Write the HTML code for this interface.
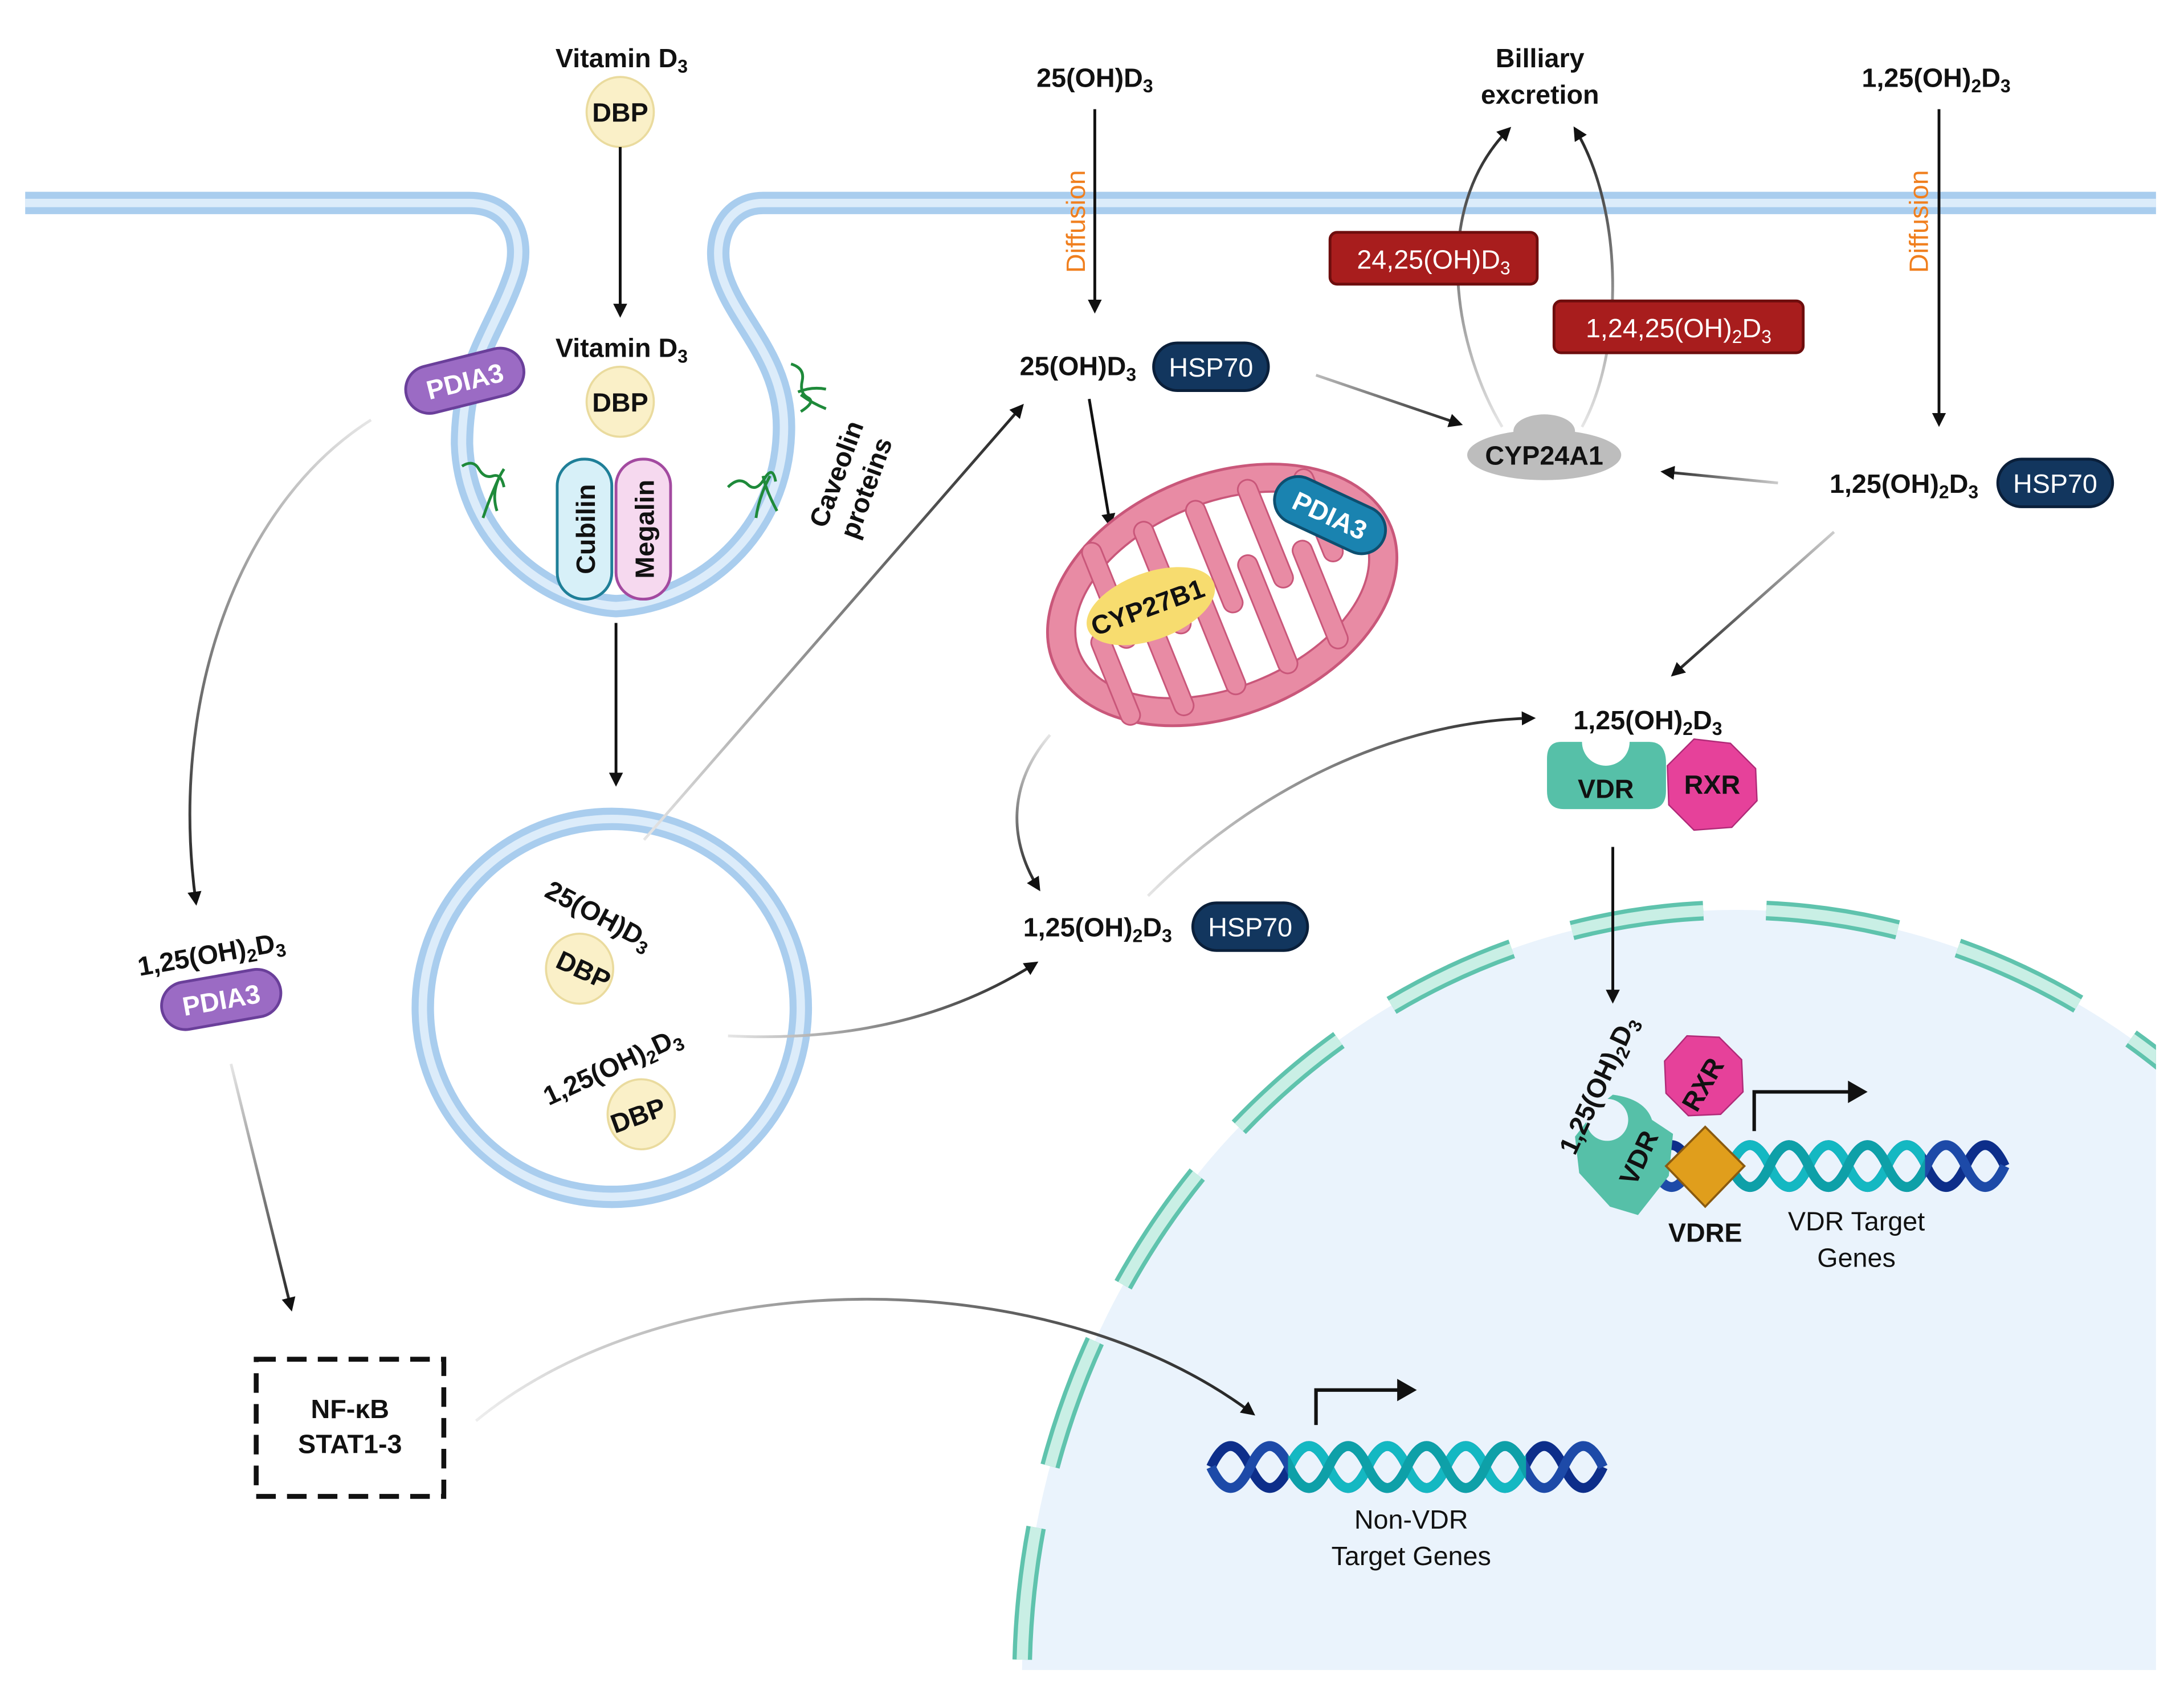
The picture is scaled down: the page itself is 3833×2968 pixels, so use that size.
<!DOCTYPE html>
<html><head><meta charset="utf-8"><style>
html,body{margin:0;padding:0;background:#fff;overflow:hidden;width:3833px;height:2968px}
svg{display:block}
text{font-family:"Liberation Sans",Arial,sans-serif;fill:#111}
.b{font-weight:bold;font-size:19px}
.s{font-size:13px}
</style></head><body>
<svg width="3833" height="2968" viewBox="0 0 1560 1208" preserveAspectRatio="none" xmlns="http://www.w3.org/2000/svg">
<defs>
<marker id="ah" viewBox="0 0 10 10" refX="8" refY="5" markerWidth="5" markerHeight="5" orient="auto-start-reverse" markerUnits="strokeWidth"><path d="M0,0 L10,5 L0,10 z" fill="#111"/></marker>
<linearGradient id="g1" gradientUnits="userSpaceOnUse" x1="265" y1="300" x2="140" y2="645"><stop offset="0" stop-color="#e6e6e6"/><stop offset="1" stop-color="#222"/></linearGradient>
<linearGradient id="g2" gradientUnits="userSpaceOnUse" x1="165" y1="760" x2="208" y2="935"><stop offset="0" stop-color="#e6e6e6"/><stop offset="1" stop-color="#222"/></linearGradient>
<linearGradient id="g3" gradientUnits="userSpaceOnUse" x1="340" y1="1015" x2="895" y2="1010"><stop offset="0" stop-color="#eee"/><stop offset="1" stop-color="#222"/></linearGradient>
<linearGradient id="g4" gradientUnits="userSpaceOnUse" x1="460" y1="600" x2="730" y2="290"><stop offset="0" stop-color="#e6e6e6"/><stop offset="1" stop-color="#222"/></linearGradient>
<linearGradient id="g5" gradientUnits="userSpaceOnUse" x1="520" y1="740" x2="740" y2="688"><stop offset="0" stop-color="#e6e6e6"/><stop offset="1" stop-color="#222"/></linearGradient>
<linearGradient id="g6" gradientUnits="userSpaceOnUse" x1="750" y1="525" x2="742" y2="635"><stop offset="0" stop-color="#e6e6e6"/><stop offset="1" stop-color="#222"/></linearGradient>
<linearGradient id="g7" gradientUnits="userSpaceOnUse" x1="820" y1="640" x2="1095" y2="513"><stop offset="0" stop-color="#e6e6e6"/><stop offset="1" stop-color="#222"/></linearGradient>
<linearGradient id="g8" gradientUnits="userSpaceOnUse" x1="1073" y1="305" x2="1078" y2="92"><stop offset="0" stop-color="#e6e6e6"/><stop offset="1" stop-color="#222"/></linearGradient>
<linearGradient id="g9" gradientUnits="userSpaceOnUse" x1="1130" y1="305" x2="1125" y2="92"><stop offset="0" stop-color="#e6e6e6"/><stop offset="1" stop-color="#222"/></linearGradient>
<linearGradient id="g10" gradientUnits="userSpaceOnUse" x1="940" y1="268" x2="1043" y2="303"><stop offset="0" stop-color="#bbb"/><stop offset="1" stop-color="#222"/></linearGradient>
<linearGradient id="g11" gradientUnits="userSpaceOnUse" x1="1270" y1="345" x2="1188" y2="337"><stop offset="0" stop-color="#ccc"/><stop offset="1" stop-color="#222"/></linearGradient>
<linearGradient id="g12" gradientUnits="userSpaceOnUse" x1="1310" y1="380" x2="1195" y2="482"><stop offset="0" stop-color="#ccc"/><stop offset="1" stop-color="#222"/></linearGradient>
<clipPath id="nc"><rect x="0" y="0" width="1540" height="1193"/></clipPath>
<clipPath id="mid1"><rect x="920" y="1000" width="170" height="100"/></clipPath>
<clipPath id="mid2"><rect x="1235" y="790" width="140" height="90"/></clipPath>
</defs>

<!-- nucleus -->
<g clip-path="url(#nc)">
<ellipse cx="1240" cy="1200" rx="510" ry="550" fill="#eaf3fc"/>
<ellipse cx="1240" cy="1200" rx="510" ry="550" fill="none" stroke="#5fc3ad" stroke-width="14" stroke-dasharray="95 45"/>
<ellipse cx="1240" cy="1200" rx="510" ry="550" fill="none" stroke="#c9efe5" stroke-width="8" stroke-dasharray="95 45"/>
</g>

<!-- membrane -->
<path d="M18,145 H335 C365,145 375,170 368,195 C355,235 330,260 330,317 C332,385 390,430 440,433 C500,430 560,380 560,305 C560,255 525,230 515,195 C508,170 520,145 545,145 H1540" fill="none" stroke="#a9cdee" stroke-width="16"/>
<path d="M18,145 H335 C365,145 375,170 368,195 C355,235 330,260 330,317 C332,385 390,430 440,433 C500,430 560,380 560,305 C560,255 525,230 515,195 C508,170 520,145 545,145 H1540" fill="none" stroke="#dcecfa" stroke-width="6"/>

<!-- caveolin squiggles -->
<g fill="none" stroke="#1e8a3a" stroke-width="2">
<path d="M330,333 q8,-5 12,2 t10,5 t8,8 M345,370 q5,-15 12,-30 M355,365 q-5,-15 5,-30"/>
<path d="M520,348 q8,-8 14,-2 t12,-4 t8,2 M540,370 q2,-15 10,-30 M555,365 q-8,-15 -10,-25"/>
<path d="M565,260 q10,3 8,12 t4,12 t-5,10 M570,280 q10,-4 20,-2 M572,282 q8,6 18,10"/>
</g>
<text class="b" transform="translate(590,378) rotate(-70)">Caveolin</text>
<text class="b" transform="translate(612,386) rotate(-70)">proteins</text>

<!-- Vitamin D3 top -->
<text class="b" x="444" y="48" text-anchor="middle">Vitamin D<tspan class="s" dy="4">3</tspan></text>
<ellipse cx="443" cy="80" rx="24" ry="25" fill="#faf0c8" stroke="#eadb9e" stroke-width="1.5"/>
<text class="b" x="443" y="87" text-anchor="middle">DBP</text>
<line x1="443" y1="105" x2="443" y2="225" stroke="#111" stroke-width="2" marker-end="url(#ah)"/>
<text class="b" x="444" y="255" text-anchor="middle">Vitamin D<tspan class="s" dy="4">3</tspan></text>
<ellipse cx="443" cy="287" rx="24" ry="25" fill="#faf0c8" stroke="#eadb9e" stroke-width="1.5"/>
<text class="b" x="443" y="294" text-anchor="middle">DBP</text>

<!-- cubilin megalin -->
<rect x="398" y="328" width="39" height="100" rx="19" fill="#d7f0f8" stroke="#1f7f98" stroke-width="2"/>
<rect x="440" y="328" width="39" height="100" rx="19" fill="#f6d9ef" stroke="#a34aa0" stroke-width="2"/>
<text class="b" transform="translate(425,378) rotate(-90)" text-anchor="middle">Cubilin</text>
<text class="b" transform="translate(467,378) rotate(-90)" text-anchor="middle">Megalin</text>
<line x1="440" y1="445" x2="440" y2="560" stroke="#111" stroke-width="2" marker-end="url(#ah)"/>

<!-- PDIA3 membrane -->
<g transform="translate(332,272) rotate(-14)">
<rect x="-43" y="-17" width="86" height="34" rx="17" fill="#9b6bc4" stroke="#6a3f9a" stroke-width="2"/>
<text class="b" x="0" y="7" text-anchor="middle" style="fill:#fff">PDIA3</text>
</g>
<path d="M265,300 C170,360 120,500 140,645" fill="none" stroke="url(#g1)" stroke-width="2" marker-end="url(#ah)"/>
<text class="b" transform="translate(152,688) rotate(-10)" text-anchor="middle">1,25(OH)<tspan class="s" dy="4">2</tspan><tspan dy="-4">D</tspan><tspan class="s" dy="4">3</tspan></text>
<g transform="translate(158,714) rotate(-10)">
<rect x="-43" y="-17" width="86" height="34" rx="17" fill="#9b6bc4" stroke="#6a3f9a" stroke-width="2"/>
<text class="b" x="0" y="7" text-anchor="middle" style="fill:#fff">PDIA3</text>
</g>
<line x1="165" y1="760" x2="208" y2="935" stroke="url(#g2)" stroke-width="2" marker-end="url(#ah)"/>
<rect x="183" y="971" width="134" height="98" fill="none" stroke="#111" stroke-width="3.5" stroke-dasharray="14 8"/>
<text class="b" x="250" y="1013" text-anchor="middle">NF-κB</text>
<text class="b" x="250" y="1038" text-anchor="middle">STAT1-3</text>
<path d="M340,1015 C480,900 750,900 895,1010" fill="none" stroke="url(#g3)" stroke-width="2" marker-end="url(#ah)"/>

<!-- vesicle -->
<circle cx="437" cy="720" r="135" fill="none" stroke="#a9cdee" stroke-width="16"/>
<circle cx="437" cy="720" r="135" fill="none" stroke="#dcecfa" stroke-width="6"/>
<text class="b" transform="translate(388,640) rotate(28)">25(OH)D<tspan class="s" dy="4">3</tspan></text>
<ellipse cx="414" cy="692" rx="24" ry="25" fill="#faf0c8" stroke="#eadb9e" stroke-width="1.5"/>
<text class="b" transform="translate(414,699) rotate(25)" text-anchor="middle">DBP</text>
<text class="b" transform="translate(392,790) rotate(-25)">1,25(OH)<tspan class="s" dy="4">2</tspan><tspan dy="-4">D</tspan><tspan class="s" dy="4">3</tspan></text>
<ellipse cx="458" cy="796" rx="24" ry="25" fill="#faf0c8" stroke="#eadb9e" stroke-width="1.5"/>
<text class="b" transform="translate(458,803) rotate(-20)" text-anchor="middle">DBP</text>
<line x1="460" y1="600" x2="730" y2="290" stroke="url(#g4)" stroke-width="2" marker-end="url(#ah)"/>
<path d="M520,740 C620,745 690,720 740,688" fill="none" stroke="url(#g5)" stroke-width="2" marker-end="url(#ah)"/>

<!-- 25(OH)D3 column -->
<text class="b" x="782" y="62" text-anchor="middle">25(OH)D<tspan class="s" dy="4">3</tspan></text>
<text transform="translate(775,195) rotate(-90)" style="fill:#f07f1e;font-size:19px">Diffusion</text>
<line x1="782" y1="78" x2="782" y2="222" stroke="#111" stroke-width="2" marker-end="url(#ah)"/>
<text class="b" x="770" y="268" text-anchor="middle">25(OH)D<tspan class="s" dy="4">3</tspan></text>
<rect x="824" y="245" width="82" height="34" rx="17" fill="#12365e" stroke="#0a1f3a" stroke-width="2"/>
<text x="865" y="269" text-anchor="middle" style="fill:#fff;font-size:19px">HSP70</text>
<line x1="778" y1="285" x2="793" y2="375" stroke="#111" stroke-width="2" marker-end="url(#ah)"/>
<line x1="940" y1="268" x2="1043" y2="303" stroke="url(#g10)" stroke-width="2" marker-end="url(#ah)"/>

<!-- mitochondria -->
<g transform="translate(873,425) rotate(-22)">
<ellipse cx="0" cy="0" rx="130" ry="86" fill="#e88ba4" stroke="#c9577a" stroke-width="2"/>
<ellipse cx="0" cy="0" rx="110" ry="66" fill="#fff" stroke="#c9577a" stroke-width="1.5"/>
<g fill="#e88ba4" stroke="#c9577a" stroke-width="1.2">
<rect x="-82" y="-70" width="14" height="80" rx="7"/>
<rect x="-42" y="-70" width="14" height="85" rx="7"/>
<rect x="-2" y="-70" width="14" height="85" rx="7"/>
<rect x="38" y="-70" width="14" height="82" rx="7"/>
<rect x="78" y="-62" width="14" height="70" rx="7"/>
<rect x="-100" y="-8" width="14" height="70" rx="7"/>
<rect x="-62" y="-15" width="14" height="85" rx="7"/>
<rect x="-22" y="-20" width="14" height="90" rx="7"/>
<rect x="18" y="-20" width="14" height="90" rx="7"/>
<rect x="58" y="-15" width="14" height="82" rx="7"/>
</g>
</g>
<ellipse cx="822" cy="433" rx="48" ry="24" transform="rotate(-20 822 433)" fill="#f7dc6f"/>
<text class="b" transform="translate(822,440) rotate(-20)" text-anchor="middle">CYP27B1</text>
<g transform="translate(950,368) rotate(25)">
<rect x="-42" y="-17" width="84" height="34" rx="17" fill="#1a83b0" stroke="#0d4f70" stroke-width="2"/>
<text class="b" x="0" y="7" text-anchor="middle" style="fill:#fff">PDIA3</text>
</g>
<path d="M750,525 C720,560 720,600 742,635" fill="none" stroke="url(#g6)" stroke-width="2" marker-end="url(#ah)"/>
<text class="b" x="784" y="669" text-anchor="middle">1,25(OH)<tspan class="s" dy="4">2</tspan><tspan dy="-4">D</tspan><tspan class="s" dy="4">3</tspan></text>
<rect x="852" y="645" width="82" height="34" rx="17" fill="#12365e" stroke="#0a1f3a" stroke-width="2"/>
<text x="893" y="669" text-anchor="middle" style="fill:#fff;font-size:19px">HSP70</text>
<path d="M820,640 C900,560 1000,515 1095,513" fill="none" stroke="url(#g7)" stroke-width="2" marker-end="url(#ah)"/>

<!-- billiary -->
<text class="b" x="1100" y="48" text-anchor="middle">Billiary</text>
<text class="b" x="1100" y="74" text-anchor="middle">excretion</text>
<path d="M1073,305 C1040,250 1020,150 1078,92" fill="none" stroke="url(#g8)" stroke-width="2" marker-end="url(#ah)"/>
<path d="M1130,305 C1160,250 1160,150 1125,92" fill="none" stroke="url(#g9)" stroke-width="2" marker-end="url(#ah)"/>
<rect x="950" y="166" width="148" height="37" rx="5" fill="#a81d1d" stroke="#6e0d0d" stroke-width="2"/>
<text x="1024" y="192" text-anchor="middle" style="fill:#fff;font-size:19px">24,25(OH)D<tspan class="s" dy="4" style="fill:#fff">3</tspan></text>
<rect x="1110" y="215" width="178" height="37" rx="5" fill="#a81d1d" stroke="#6e0d0d" stroke-width="2"/>
<text x="1199" y="241" text-anchor="middle" style="fill:#fff;font-size:19px">1,24,25(OH)<tspan class="s" dy="4" style="fill:#fff">2</tspan><tspan dy="-4" style="fill:#fff">D</tspan><tspan class="s" dy="4" style="fill:#fff">3</tspan></text>
<ellipse cx="1103" cy="325" rx="55" ry="18" fill="#bdbdbd"/>
<ellipse cx="1103" cy="308" rx="22" ry="12" fill="#bdbdbd"/>
<text class="b" x="1103" y="332" text-anchor="middle">CYP24A1</text>

<!-- right column -->
<text class="b" x="1383" y="62" text-anchor="middle">1,25(OH)<tspan class="s" dy="4">2</tspan><tspan dy="-4">D</tspan><tspan class="s" dy="4">3</tspan></text>
<text transform="translate(1377,195) rotate(-90)" style="fill:#f07f1e;font-size:19px">Diffusion</text>
<line x1="1385" y1="78" x2="1385" y2="303" stroke="#111" stroke-width="2" marker-end="url(#ah)"/>
<text class="b" x="1360" y="352" text-anchor="middle">1,25(OH)<tspan class="s" dy="4">2</tspan><tspan dy="-4">D</tspan><tspan class="s" dy="4">3</tspan></text>
<rect x="1427" y="328" width="82" height="34" rx="17" fill="#12365e" stroke="#0a1f3a" stroke-width="2"/>
<text x="1468" y="352" text-anchor="middle" style="fill:#fff;font-size:19px">HSP70</text>
<line x1="1270" y1="345" x2="1188" y2="337" stroke="url(#g11)" stroke-width="2" marker-end="url(#ah)"/>
<line x1="1310" y1="380" x2="1195" y2="482" stroke="url(#g12)" stroke-width="2" marker-end="url(#ah)"/>

<!-- VDR RXR cytoplasm -->
<text class="b" x="1177" y="521" text-anchor="middle">1,25(OH)<tspan class="s" dy="4">2</tspan><tspan dy="-4">D</tspan><tspan class="s" dy="4">3</tspan></text>
<path d="M1115,530 H1130 A17,17 0 0 0 1164,530 H1178 Q1190,530 1190,545 V565 Q1190,578 1178,578 H1117 Q1105,578 1105,565 V542 Q1105,530 1115,530 Z" fill="#56c0a8"/>
<text class="b" x="1147" y="570" text-anchor="middle">VDR</text>
<polygon points="1210,528 1236,531 1254,549 1255,572 1237,591 1210,593 1192,575 1191,547" fill="#e6419a" stroke="#b02a78" stroke-width="1"/>
<text class="b" x="1223" y="567" text-anchor="middle">RXR</text>
<line x1="1152" y1="605" x2="1152" y2="715" stroke="#111" stroke-width="2" marker-end="url(#ah)"/>

<!-- VDR target genes DNA -->
<g fill="none" stroke-width="7">
<path d="M1180,833 q14,-30 28,0 t28,0 t28,0 t28,0 t28,0 t28,0 t28,0 t28,0 t28,0" stroke="#0d2e8a"/>
<path d="M1180,833 q14,30 28,0 t28,0 t28,0 t28,0 t28,0 t28,0 t28,0 t28,0 t28,0" stroke="#1d4aa8"/>
<g clip-path="url(#mid2)">
<path d="M1180,833 q14,-30 28,0 t28,0 t28,0 t28,0 t28,0 t28,0 t28,0 t28,0 t28,0" stroke="#14b8c2"/>
<path d="M1180,833 q14,30 28,0 t28,0 t28,0 t28,0 t28,0 t28,0 t28,0 t28,0 t28,0" stroke="#0ea0a8"/>
</g>
</g>
<path d="M1142,790 L1152,782 Q1175,785 1180,800 L1195,810 L1192,840 L1170,868 L1150,862 L1128,838 L1125,812 Z" fill="#56c0a8"/>
<circle cx="1148" cy="800" r="15" fill="#eaf3fc"/>
<text class="b" transform="translate(1168,848) rotate(-65)">VDR</text>
<polygon points="1205,740 1228,741 1244,757 1245,780 1229,796 1206,797 1190,781 1189,758" fill="#e6419a" stroke="#b02a78" stroke-width="1"/>
<text class="b" transform="translate(1222,778) rotate(-60)" text-anchor="middle">RXR</text>
<polygon points="1218,805 1246,833 1218,862 1190,833" fill="#e09e1c" stroke="#8a5a10" stroke-width="1.5"/>
<text class="b" transform="translate(1125,826) rotate(-65)">1,25(OH)<tspan class="s" dy="4">2</tspan><tspan dy="-4">D</tspan><tspan class="s" dy="4">3</tspan></text>
<text class="b" x="1218" y="887" text-anchor="middle">VDRE</text>
<text x="1326" y="879" text-anchor="middle" style="font-size:19px">VDR Target</text>
<text x="1326" y="905" text-anchor="middle" style="font-size:19px">Genes</text>
<path d="M1253,808 V780 H1322" fill="none" stroke="#111" stroke-width="2.5"/>
<polygon points="1320,772 1334,780 1320,788" fill="#111"/>

<!-- Non-VDR DNA -->
<g fill="none" stroke-width="7">
<path d="M865,1048 q14,-30 28,0 t28,0 t28,0 t28,0 t28,0 t28,0 t28,0 t28,0 t28,0 t28,0" stroke="#0d2e8a"/>
<path d="M865,1048 q14,30 28,0 t28,0 t28,0 t28,0 t28,0 t28,0 t28,0 t28,0 t28,0 t28,0" stroke="#1d4aa8"/>
<g clip-path="url(#mid1)">
<path d="M865,1048 q14,-30 28,0 t28,0 t28,0 t28,0 t28,0 t28,0 t28,0 t28,0 t28,0 t28,0" stroke="#14b8c2"/>
<path d="M865,1048 q14,30 28,0 t28,0 t28,0 t28,0 t28,0 t28,0 t28,0 t28,0 t28,0 t28,0" stroke="#0ea0a8"/>
</g>
</g>
<path d="M940,1018 V993 H1000" fill="none" stroke="#111" stroke-width="2.5"/>
<polygon points="998,985 1012,993 998,1001" fill="#111"/>
<text x="1008" y="1092" text-anchor="middle" style="font-size:19px">Non-VDR</text>
<text x="1008" y="1118" text-anchor="middle" style="font-size:19px">Target Genes</text>
</svg>
</body></html>
